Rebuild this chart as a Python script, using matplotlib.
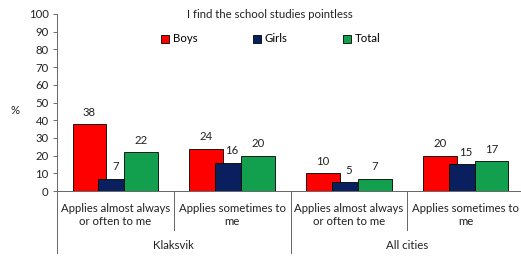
import numpy as np
import matplotlib
matplotlib.use("Agg")
import matplotlib.pyplot as plt
import matplotlib.transforms as mtransforms

plt.rcParams['font.family'] = ['Lato', 'DejaVu Sans']

# data
categories = ['Applies almost always\nor often to me', 'Applies sometimes to\nme',
              'Applies almost always\nor often to me', 'Applies sometimes to\nme']
groups = ['Klaksvik', 'All cities']
boys = [38, 24, 10, 20]
girls = [7, 16, 5, 15]
total = [22, 20, 7, 17]
title = 'I find the school studies pointless'

series = [('Boys', boys, '#FF0000'), ('Girls', girls, '#0A1F5E'), ('Total', total, '#13A04E')]

fig = plt.figure(figsize=(5.21, 2.57), dpi=100)
W, H = 521, 257
x0, x1, yb, yt = 57, 524, 191, 14
ax = fig.add_axes([x0 / W, (H - yb) / H, (x1 - x0) / W, (yb - yt) / H])

x = np.arange(len(categories)) + 0.5
bw = 0.29
step = 0.222
fs = 8.2
for i, (name, vals, col) in enumerate(series):
    xs = x + (i - 1) * step
    ax.bar(xs, vals, width=bw, color=col, edgecolor='black', linewidth=0.6, label=name, zorder=2 + i)
    for xx, v in zip(xs, vals):
        ax.text(xx, v + 3.5, str(v), ha='center', va='bottom', fontsize=fs, color='#222222')

ax.set_xlim(0, len(categories))
ax.set_ylim(0, 100)
ax.set_yticks(range(0, 101, 10))
ax.tick_params(axis='y', labelsize=fs, length=3, width=0.6, colors='#555555', labelcolor='#222222', pad=3)
ax.set_xticks([])
for s in ['top', 'right']:
    ax.spines[s].set_visible(False)
for s in ['left', 'bottom']:
    ax.spines[s].set_color('#666666')
    ax.spines[s].set_linewidth(0.7)

trans = mtransforms.blended_transform_factory(ax.transData, ax.transAxes)
# category labels and dividers
for xx, lab in zip(x, categories):
    ax.text(xx, -0.065, lab, transform=trans, ha='center', va='top', fontsize=fs,
            color='#222222', linespacing=1.25)
for d in [1, 3]:
    ax.plot([d, d], [0, -0.22], transform=trans, color='#666666', lw=0.7, clip_on=False)
for d in [0, 2, 4]:
    ax.plot([d, d], [0, -0.35], transform=trans, color='#666666', lw=0.7, clip_on=False)
for gi, g in enumerate(groups):
    ax.text(gi * 2 + 1, -0.31, g, transform=trans, ha='center', va='center', fontsize=fs, color='#222222')

fig.text(15 / W, 1 - 110 / H, '%', ha='center', va='center', fontsize=fs, color='#222222')
fig.text(270 / W, 1 - 15 / H, title, ha='center', va='center', fontsize=fs, color='#222222')

ax.legend(loc='center', bbox_to_anchor=(271 / W, 1 - 39 / H), bbox_transform=fig.transFigure,
          ncol=3, frameon=False, fontsize=fs, handlelength=0.7, handleheight=0.7,
          handletextpad=0.3, columnspacing=4.9)

fig.savefig('out.png', dpi=100)
